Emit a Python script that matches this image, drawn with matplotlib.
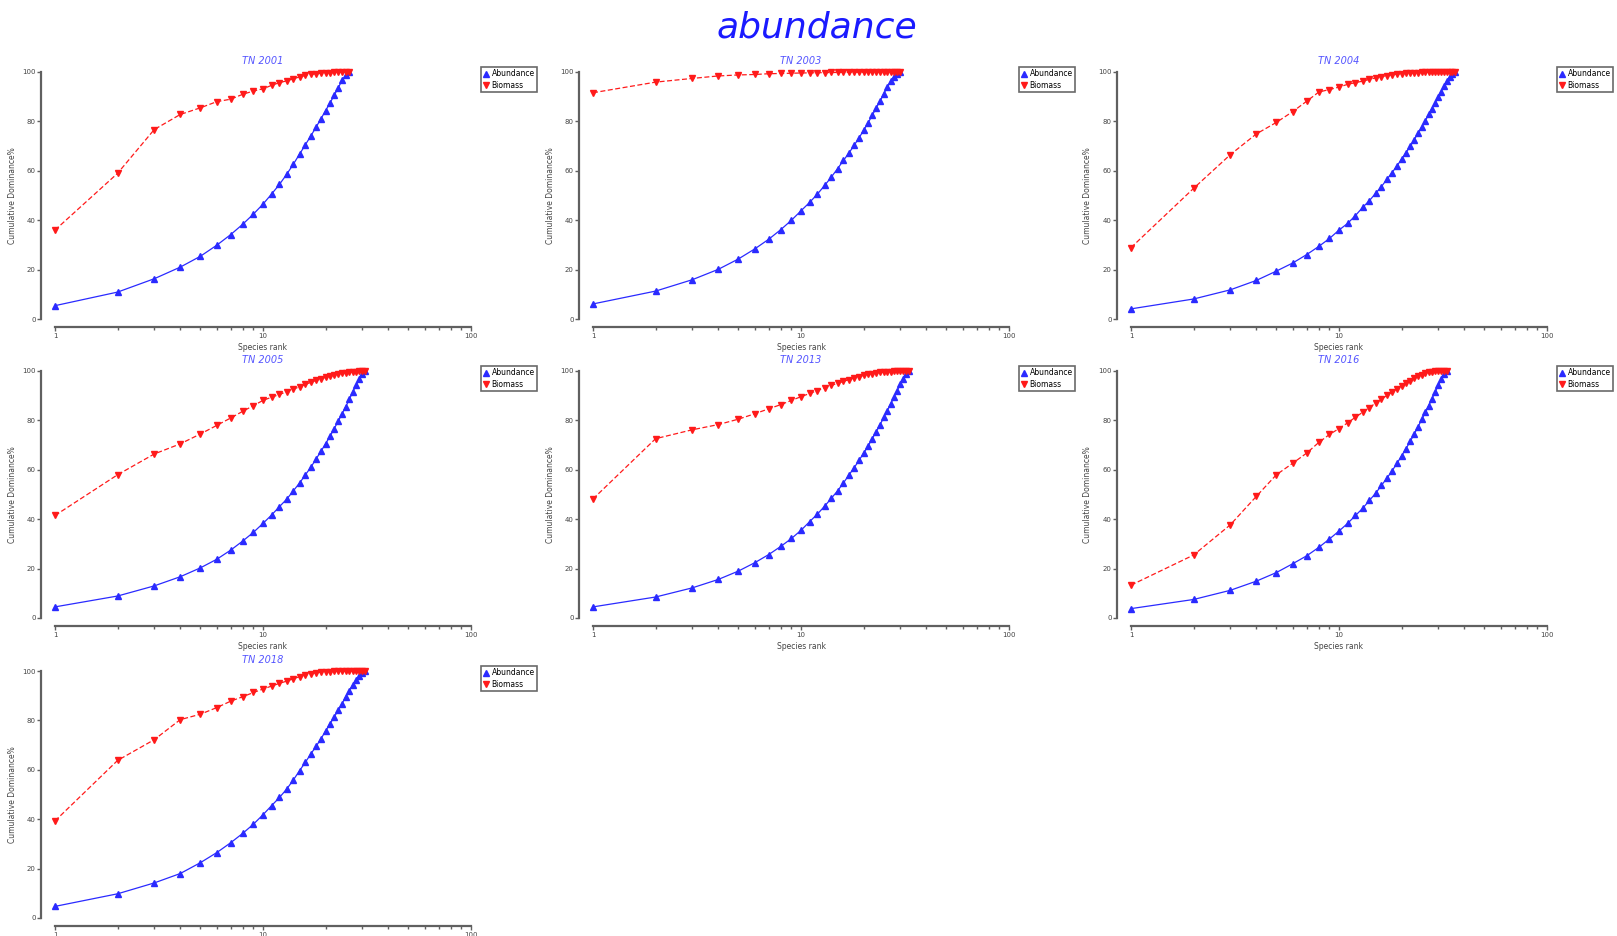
import numpy as np
import matplotlib
matplotlib.use("Agg")
import matplotlib.pyplot as plt
from matplotlib.ticker import LogLocator, FixedLocator, NullFormatter

# sample panels (ABC curves)
titles = ["TN 2001", "TN 2003", "TN 2004", "TN 2005", "TN 2013", "TN 2016", "TN 2018"]

abund_2001 = [5.4, 10.9, 16.3, 21.0, 25.4, 29.9, 34.2, 38.4, 42.5, 46.5, 50.6, 54.5, 58.6,
              62.7, 66.8, 70.6, 74.2, 77.7, 81.1, 84.4, 87.5, 90.6, 93.6, 96.7, 98.6, 100]
biom_2001 = [36.0, 59.0, 76.7, 82.8, 85.5, 88.0, 89.0, 91.0, 92.3, 93.2, 94.6, 95.7, 96.4,
             97.3, 98.0, 98.6, 99.0, 99.3, 99.5, 99.6, 99.7, 99.8, 99.9, 99.9, 100, 100]

abund_2003 = [6.1, 11.3, 15.9, 20.1, 24.3, 28.4, 32.3, 36.2, 40.0, 43.8, 47.2, 50.6, 54.1,
              57.5, 60.9, 64.2, 67.2, 70.3, 73.3, 76.4, 79.4, 82.4, 85.5, 88.2, 91.2, 93.9,
              96.3, 98.1, 99.3, 100]
biom_2003 = [91.6, 95.9, 97.4, 98.4, 98.8, 99.0, 99.3, 99.4, 99.5, 99.6, 99.65, 99.7, 99.75,
             99.8, 99.82, 99.85, 99.87, 99.9, 99.91, 99.92, 99.93, 99.94, 99.95, 99.96, 99.97,
             99.98, 99.99, 99.99, 100, 100]

abund_2004 = [4.1, 8.1, 11.8, 15.6, 19.4, 22.7, 26.1, 29.4, 32.6, 36.0, 38.7, 41.9, 45.2,
              47.9, 50.9, 53.6, 56.6, 59.3, 62.0, 64.7, 67.4, 69.9, 72.6, 75.3, 77.7, 80.3,
              82.8, 85.2, 87.5, 90.0, 92.1, 94.3, 96.3, 98.1, 99.3, 100]
biom_2004 = [28.9, 52.9, 66.5, 74.9, 79.6, 84.0, 88.2, 91.9, 92.9, 93.9, 95.0, 95.7, 96.3,
             97.0, 97.6, 98.1, 98.5, 98.9, 99.1, 99.3, 99.5, 99.6, 99.7, 99.75, 99.8, 99.85,
             99.88, 99.9, 99.92, 99.94, 99.96, 99.97, 99.98, 99.99, 100, 100]

abund_2005 = [4.5, 8.9, 13.0, 16.7, 20.3, 23.8, 27.5, 31.2, 34.7, 38.3, 41.7, 45.1, 48.1,
              51.5, 54.7, 58.0, 61.1, 64.4, 67.5, 70.6, 73.6, 76.7, 79.7, 82.7, 85.6, 88.5,
              91.5, 94.2, 96.6, 98.6, 100]
biom_2005 = [41.5, 58.0, 66.4, 70.5, 74.5, 78.0, 81.0, 83.7, 86.0, 88.1, 89.4, 90.5, 91.6,
             92.7, 93.6, 94.6, 95.4, 96.2, 96.9, 97.4, 97.9, 98.4, 98.8, 99.1, 99.3, 99.5,
             99.6, 99.7, 99.85, 99.95, 100]

abund_2013 = [4.5, 8.5, 12.2, 15.6, 19.0, 22.4, 25.7, 29.0, 32.2, 35.5, 39.0, 42.1, 45.3,
              48.5, 51.5, 54.7, 57.9, 60.8, 63.8, 66.7, 69.6, 72.6, 75.5, 78.3, 81.2, 84.0,
              86.7, 89.4, 92.0, 94.6, 96.9, 98.8, 100]
biom_2013 = [48.2, 72.6, 76.2, 78.3, 80.5, 82.7, 84.7, 86.4, 88.1, 89.6, 90.9, 92.1, 93.2,
             94.2, 95.0, 95.8, 96.5, 97.2, 97.7, 98.2, 98.6, 98.9, 99.2, 99.4, 99.5, 99.6,
             99.7, 99.8, 99.85, 99.9, 99.95, 99.97, 100]

abund_2016 = [3.8, 7.5, 11.2, 14.9, 18.4, 22.0, 25.2, 28.6, 32.0, 35.2, 38.3, 41.5, 44.4,
              47.6, 50.5, 53.7, 56.6, 59.6, 62.6, 65.7, 68.6, 71.5, 74.5, 77.5, 80.4, 83.2,
              86.0, 88.8, 91.5, 94.2, 96.6, 98.6, 100]
biom_2016 = [13.3, 25.5, 37.7, 49.2, 58.0, 62.7, 66.8, 71.1, 74.3, 76.7, 79.0, 81.3, 83.3,
             85.2, 87.0, 88.6, 90.1, 91.5, 92.8, 94.0, 95.1, 96.1, 97.0, 97.8, 98.5, 99.1,
             99.5, 99.7, 99.8, 99.9, 99.95, 99.98, 100]

abund_2018 = [4.7, 9.8, 14.2, 18.0, 22.4, 26.5, 30.5, 34.3, 38.0, 41.8, 45.5, 48.8, 52.2,
              55.9, 59.7, 63.1, 66.5, 69.5, 72.6, 75.7, 78.7, 81.4, 84.1, 86.8, 89.6, 92.0,
              94.3, 96.3, 98.0, 99.3, 100]
biom_2018 = [39.3, 63.8, 72.2, 80.3, 82.5, 85.2, 87.8, 89.6, 91.3, 92.7, 93.9, 95.0, 95.9,
             96.9, 97.7, 98.4, 98.9, 99.3, 99.5, 99.6, 99.7, 99.8, 99.85, 99.9, 99.92, 99.95,
             99.97, 99.98, 99.99, 100, 100]

abundance = [abund_2001, abund_2003, abund_2004, abund_2005, abund_2013, abund_2016, abund_2018]
biomass = [biom_2001, biom_2003, biom_2004, biom_2005, biom_2013, biom_2016, biom_2018]

W, H = 1617, 936
fig = plt.figure(figsize=(W / 100, H / 100), dpi=100)

# axes boxes in pixels (left, top) -> fractions
col_left = [55, 593, 1131]
row_top = [72, 371, 671]
ax_w, ax_h = 416, 247

blue = "#2a2aff"
red = "#ff1a1a"
grey = "#606060"

for i, name in enumerate(titles):
    r, c = divmod(i, 3)
    left = col_left[c] / W
    bottom = 1 - (row_top[r] + ax_h) / H
    ax = fig.add_axes([left, bottom, ax_w / W, ax_h / H])

    ranks = np.arange(1, len(abundance[i]) + 1)
    ax.plot(ranks, abundance[i], "-", color=blue, lw=0.9, marker="^", ms=4.6,
            mec=blue, mfc=blue, label="Abundance", clip_on=False)
    ax.plot(ranks, biomass[i], "--", color=red, lw=0.9, marker="v", ms=4.6,
            mec=red, mfc=red, label="Biomass", clip_on=False, dashes=(4, 2))

    ax.set_xscale("log")
    ax.set_xlim(1, 100)
    ax.set_ylim(0, 100)
    ax.set_yticks([0, 20, 40, 60, 80, 100])
    ax.xaxis.set_major_locator(FixedLocator([1, 10, 100]))
    ax.set_xticklabels(["1", "10", "100"])
    ax.xaxis.set_minor_locator(LogLocator(base=10, subs=np.arange(2, 10)))
    ax.xaxis.set_minor_formatter(NullFormatter())

    for s in ["top", "right"]:
        ax.spines[s].set_visible(False)
    ax.spines["left"].set_position(("outward", 10))
    ax.spines["bottom"].set_position(("outward", 6))
    for s in ["left", "bottom"]:
        ax.spines[s].set_color(grey)
        ax.spines[s].set_linewidth(1.6)
    ax.tick_params(axis="both", which="both", colors=grey, labelsize=5,
                   length=3, width=1, pad=1, labelcolor="#444444")
    ax.tick_params(axis="x", which="minor", length=2)

    # last row: the axis title falls below the picture edge in the original
    if r < 2:
        ax.set_xlabel("Species rank", fontsize=5.5, color="#444444", labelpad=3)
    ax.set_ylabel("Cumulative Dominance%", fontsize=5.5, color="#444444", labelpad=4)
    ax.set_title(name, fontsize=7, style="italic", color="#5555ff", pad=6)

    leg = ax.legend(loc="upper left", bbox_to_anchor=(1.024, 1.02), fontsize=5.5,
                    frameon=True, fancybox=False, handlelength=0.6, handletextpad=0.5,
                    borderpad=0.3, labelspacing=0.3, markerscale=0.9, borderaxespad=0)
    leg.get_frame().set_edgecolor("#444444")
    leg.get_frame().set_linewidth(1.2)
    for h in leg.get_lines():
        h.set_linestyle("none")

fig.text(817 / W, 1 - 28 / H, "abundance", ha="center", va="center",
         fontsize=26, style="italic", color="#1a1aff")

fig.savefig("out.png", dpi=100)
